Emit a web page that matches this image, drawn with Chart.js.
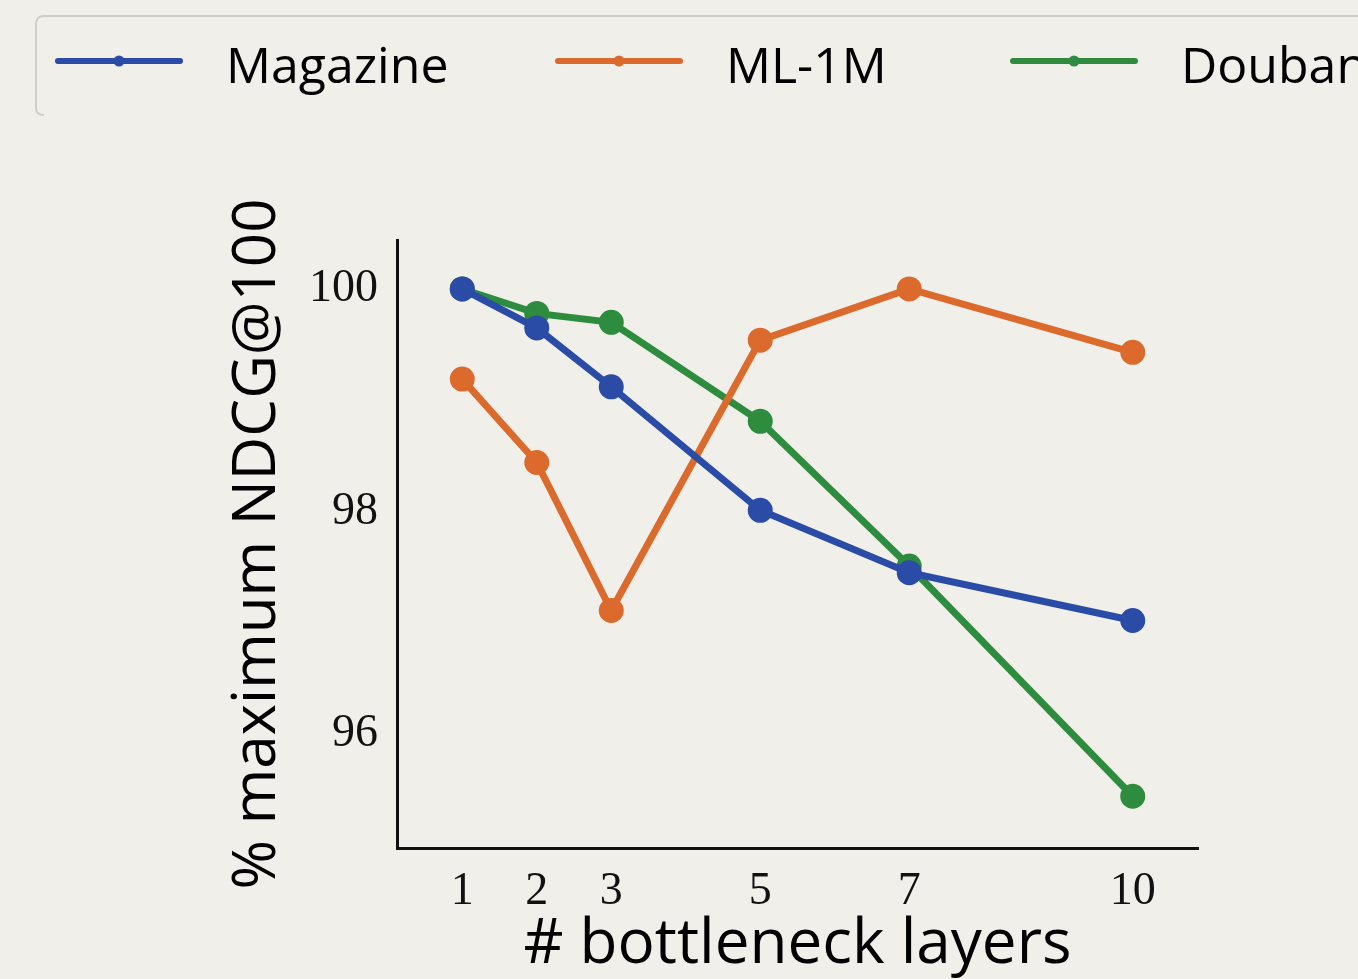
<!DOCTYPE html>
<html>
<head>
<meta charset="utf-8">
<script src="https://cdn.jsdelivr.net/npm/chart.js@4"></script>
<style>
  html, body { margin: 0; padding: 0; background: #f1efea; }
  #wrap { position: relative; width: 1358px; height: 979px; }
</style>
</head>
<body>
<div id="wrap"><canvas id="chart" width="1358" height="979"></canvas></div>
<script>
// dados
const layers = [1, 2, 3, 5, 7, 10];
const magazine = [100, 99.65, 99.12, 98.01, 97.45, 97.02];
const ml1m = [99.19, 98.44, 97.11, 99.54, 100, 99.43];
const douban = [100, 99.78, 99.70, 98.81, 97.51, 95.44];
const yTicks = [96, 98, 100];
const seriesNames = ['Magazine', 'ML-1M', 'Douban'];
const seriesColors = ['#2a4ba6', '#dc6a2c', '#2e8c3f'];

const toPoints = (vals) => vals.map((v, i) => ({ x: layers[i], y: v }));

// legenda desenhada à mão (caixa cortada à direita, como no original)
const legendPlugin = {
  id: 'topLegend',
  afterDraw(chart) {
    const ctx = chart.ctx;
    ctx.save();
    ctx.strokeStyle = '#cfcdc8';
    ctx.lineWidth = 2;
    ctx.beginPath();
    ctx.moveTo(1360, 16);
    ctx.lineTo(44, 16);
    ctx.quadraticCurveTo(36, 16, 36, 24);
    ctx.lineTo(36, 108);
    ctx.quadraticCurveTo(36, 115, 44, 115);
    ctx.stroke();

    const starts = [58, 558, 1013];
    chart.data.datasets.forEach((ds, i) => {
      const x0 = starts[i];
      ctx.strokeStyle = ds.borderColor;
      ctx.lineWidth = 6;
      ctx.lineCap = 'round';
      ctx.beginPath();
      ctx.moveTo(x0, 61);
      ctx.lineTo(x0 + 122, 61);
      ctx.stroke();
      ctx.fillStyle = ds.borderColor;
      ctx.beginPath();
      ctx.arc(x0 + 61, 61, 5.5, 0, Math.PI * 2);
      ctx.fill();
      ctx.fillStyle = '#000';
      ctx.font = '50px "Open Sans", sans-serif';
      ctx.textBaseline = 'alphabetic';
      ctx.fillText(ds.label, x0 + 168, 83);
    });
    ctx.restore();
  }
};

const mkDataset = (i, vals) => ({
  label: seriesNames[i],
  data: toPoints(vals),
  borderColor: seriesColors[i],
  backgroundColor: seriesColors[i],
  borderWidth: 7,
  pointRadius: 9,
  pointHoverRadius: 9,
  tension: 0,
});

new Chart(document.getElementById('chart'), {
  type: 'line',
  data: {
    datasets: [
      mkDataset(0, magazine),
      mkDataset(1, ml1m),
      mkDataset(2, douban),
    ]
  },
  options: {
    responsive: false,
    animation: false,
    layout: { padding: { left: 222, right: 160, top: 240, bottom: 0 } },
    plugins: { legend: { display: false }, tooltip: { enabled: false } },
    scales: {
      x: {
        type: 'linear',
        min: 0.124,
        max: 10.876,
        afterBuildTicks: (axis) => { axis.ticks = layers.map(v => ({ value: v })); },
        afterFit: (axis) => { axis.height = 131; },
        grid: { display: false, drawOnChartArea: false, drawTicks: true, tickLength: 8, tickColor: '#222' },
        border: { display: true, color: '#111', width: 3 },
        ticks: {
          color: '#111',
          font: { family: '"Liberation Serif", serif', size: 46 },
          padding: 8,
          autoSkip: false,
          maxRotation: 0,
        },
        title: {
          display: true,
          text: '# bottleneck layers',
          color: '#000',
          font: { family: '"Open Sans", sans-serif', size: 62 },
          padding: { top: 0, bottom: -4 },
        }
      },
      y: {
        min: 94.975,
        max: 100.44,
        afterBuildTicks: (axis) => { axis.ticks = yTicks.map(v => ({ value: v })); },
        afterFit: (axis) => { axis.width = 175; },
        grid: { display: false, drawOnChartArea: false, drawTicks: true, tickLength: 9, tickColor: '#222' },
        border: { display: true, color: '#111', width: 3 },
        ticks: {
          color: '#111',
          font: { family: '"Liberation Serif", serif', size: 46 },
          padding: 10,
        },
        title: {
          display: true,
          text: '% maximum NDCG@100',
          color: '#000',
          font: { family: '"Open Sans", sans-serif', size: 60 },
          padding: { top: 0, bottom: 0 },
        }
      }
    }
  },
  plugins: [legendPlugin]
});
</script>
</body>
</html>
